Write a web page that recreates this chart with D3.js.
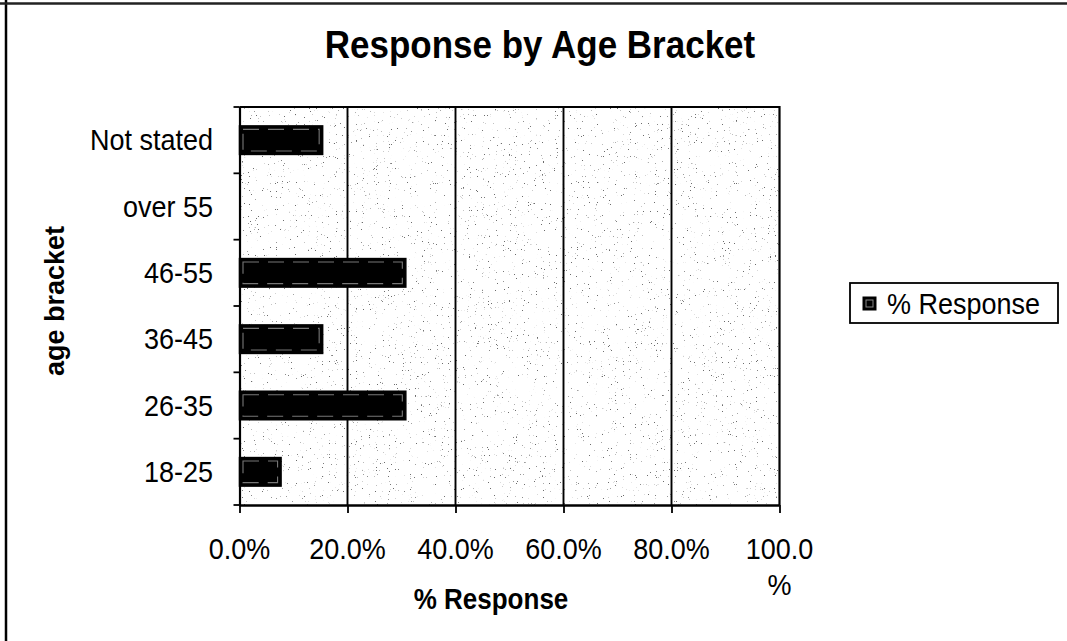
<!DOCTYPE html>
<html>
<head>
<meta charset="utf-8">
<script src="https://cdn.jsdelivr.net/npm/d3@7"></script>
<style>
  html, body { margin: 0; padding: 0; background: #fff; }
  svg { display: block; font-family: "Liberation Sans", Arial, sans-serif; }
</style>
</head>
<body>
<svg id="chart" width="1067" height="641"></svg>
<script>
// ---- data ----
const categories = ["Not stated", "over 55", "46-55", "36-45", "26-35", "18-25"];
const responseValues = [0.154, 0.0, 0.308, 0.154, 0.308, 0.077];
const xTickValues = [0, 0.2, 0.4, 0.6, 0.8, 1.0];
const xTickLabels = ["0.0%", "20.0%", "40.0%", "60.0%", "80.0%", "100.0%"];
const seriesName = "% Response";
const chartTitle = "Response by Age Bracket";
const xAxisTitle = "% Response";
const yAxisTitle = "age bracket";

const data = categories.map((c, i) => ({ cat: c, val: responseValues[i] }));

const svg = d3.select("#chart");
const plot = { left: 239.5, right: 779.5, top: 107, bottom: 505 };

const x = d3.scaleLinear().domain([0, 1]).range([plot.left, plot.right]);
const y = d3.scaleBand().domain(categories).range([plot.top, plot.bottom]).padding(0);
const barH = y.bandwidth() * 0.43;
const TS = 1.1; // vertical stretch of glyphs seen in the scan

// outer page border (left and top only)
svg.append("line").attr("x1", 6).attr("x2", 6).attr("y1", 0).attr("y2", 641)
  .attr("stroke", "#000").attr("stroke-width", 2.5);
svg.append("line").attr("x1", 0).attr("x2", 1067).attr("y1", 3.5).attr("y2", 3.5)
  .attr("stroke", "#222").attr("stroke-width", 2.5);

// speckle texture filter
const defs = svg.append("defs");
const f = defs.append("filter").attr("id", "speckle")
  .attr("x", 0).attr("y", 0).attr("width", "100%").attr("height", "100%");
f.append("feTurbulence").attr("type", "fractalNoise").attr("baseFrequency", 0.85)
  .attr("numOctaves", 2).attr("seed", 7).attr("result", "noise");
f.append("feColorMatrix").attr("in", "noise").attr("type", "matrix")
  .attr("values", "0 0 0 0 0.15  0 0 0 0 0.15  0 0 0 0 0.15  14 0 0 0 -10.0");
defs.append("clipPath").attr("id", "plotClip").append("rect")
  .attr("x", plot.left).attr("y", plot.top)
  .attr("width", plot.right - plot.left).attr("height", plot.bottom - plot.top);

// plot background
svg.append("rect").attr("x", plot.left).attr("y", plot.top)
  .attr("width", plot.right - plot.left).attr("height", plot.bottom - plot.top)
  .attr("fill", "#fff");
svg.append("g").attr("clip-path", "url(#plotClip)").append("rect")
  .attr("x", plot.left).attr("y", plot.top)
  .attr("width", plot.right - plot.left).attr("height", plot.bottom - plot.top)
  .attr("fill", "#fff").attr("filter", "url(#speckle)");

// vertical gridlines
svg.append("g").selectAll("line").data(xTickValues.filter(v => v > 0 && v < 1)).join("line")
  .attr("x1", d => x(d)).attr("x2", d => x(d))
  .attr("y1", plot.top).attr("y2", plot.bottom)
  .attr("stroke", "#000").attr("stroke-width", 1.9);

// plot frame (top / right)
svg.append("path")
  .attr("d", `M${plot.left},${plot.top}H${plot.right}V${plot.bottom}`)
  .attr("fill", "none").attr("stroke", "#000").attr("stroke-width", 2.2);

// bars
const bars = svg.append("g");
bars.selectAll("rect.bar").data(data.filter(d => d.val > 0)).join("rect")
  .attr("class", "bar")
  .attr("x", x(0))
  .attr("y", d => y(d.cat) + (y.bandwidth() - barH) / 2)
  .attr("width", d => x(d.val) - x(0))
  .attr("height", barH)
  .attr("fill", "#000").attr("stroke", "#000").attr("stroke-width", 1.5);
bars.selectAll("rect.inner").data(data.filter(d => d.val > 0)).join("rect")
  .attr("class", "inner")
  .attr("x", x(0) + 3.5)
  .attr("y", d => y(d.cat) + (y.bandwidth() - barH) / 2 + 3.5)
  .attr("width", d => x(d.val) - x(0) - 7)
  .attr("height", barH - 7)
  .attr("fill", "none").attr("stroke", "#777").attr("stroke-width", 1.1)
  .attr("stroke-dasharray", "16 9");

// x axis
const xAxis = d3.axisBottom(x).tickValues(xTickValues).tickSize(8).tickFormat("");
const gx = svg.append("g").attr("transform", `translate(0,${plot.bottom})`).call(xAxis);
gx.select(".domain").attr("stroke", "#000").attr("stroke-width", 2.4)
  .attr("d", `M${plot.left},0.5H${plot.right}`);
gx.selectAll(".tick line").attr("stroke", "#000").attr("stroke-width", 1.8);

// x tick labels (last one wraps like the original)
const xl = svg.append("g").attr("font-size", 27).attr("fill", "#000").attr("text-anchor", "middle");
xTickValues.forEach((v, i) => {
  const lab = xTickLabels[i];
  const t = xl.append("text").attr("transform", `translate(${x(v)},559) scale(1,${TS})`);
  if (v === 1) {
    t.append("tspan").attr("x", 0).text(lab.slice(0, -1));
    t.append("tspan").attr("x", 0).attr("dy", 33).text("%");
  } else {
    t.text(lab);
  }
});

// y axis
const yAxis = d3.axisLeft(y).tickSize(0).tickFormat("");
const gy = svg.append("g").attr("transform", `translate(${plot.left},0)`).call(yAxis);
gy.select(".domain").attr("stroke", "#000").attr("stroke-width", 2.2)
  .attr("d", `M0.5,${plot.top}V${plot.bottom}`);
const boundaries = categories.map(c => y(c)).concat([plot.bottom]);
gy.selectAll("line.bt").data(boundaries).join("line").attr("class", "bt")
  .attr("x1", -6).attr("x2", 0).attr("y1", d => d).attr("y2", d => d)
  .attr("stroke", "#000").attr("stroke-width", 1.8);

// y tick labels
svg.append("g").attr("font-size", 27).attr("text-anchor", "end").attr("fill", "#000")
  .selectAll("text").data(categories).join("text")
  .attr("transform", d => `translate(213,${y(d) + y.bandwidth() / 2 + 10}) scale(1,${TS})`)
  .text(d => d);

// title
svg.append("text").attr("transform", `translate(540,58) scale(1,${TS})`).attr("text-anchor", "middle")
  .attr("font-size", 35).attr("font-weight", "bold").text(chartTitle);

// axis titles
svg.append("text").attr("transform", `translate(491,609) scale(1,${TS})`).attr("text-anchor", "middle")
  .attr("font-size", 26).attr("font-weight", "bold").text(xAxisTitle);
svg.append("text").attr("transform", "translate(64,301) rotate(-90)")
  .attr("text-anchor", "middle").attr("font-size", 27).attr("font-weight", "bold")
  .text(yAxisTitle);

// legend
const lg = svg.append("g");
lg.append("rect").attr("x", 850).attr("y", 283).attr("width", 208).attr("height", 40)
  .attr("fill", "#fff").attr("stroke", "#000").attr("stroke-width", 1.8);
lg.append("rect").attr("x", 863).attr("y", 297).attr("width", 13).attr("height", 13)
  .attr("fill", "#000").attr("stroke", "#000");
lg.append("rect").attr("x", 866).attr("y", 300).attr("width", 7).attr("height", 7)
  .attr("fill", "none").attr("stroke", "#888").attr("stroke-width", 1);
lg.append("text").attr("transform", `translate(887,314) scale(1,${TS})`).attr("font-size", 27).text(seriesName);
</script>
</body>
</html>
